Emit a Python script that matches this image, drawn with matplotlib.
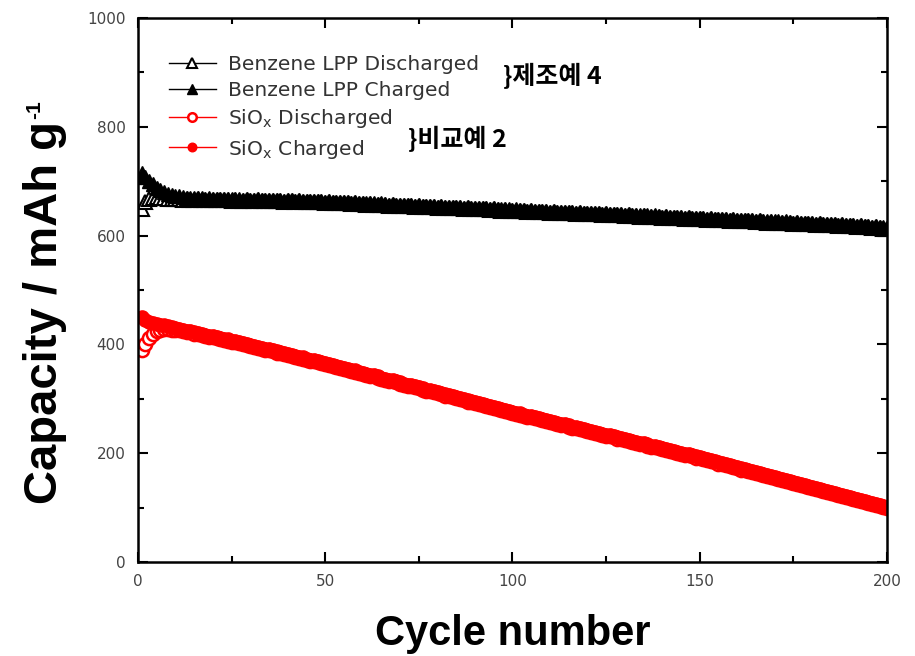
import matplotlib
matplotlib.use("Agg")
import matplotlib.pyplot as plt
from matplotlib.ticker import MultipleLocator

plt.rcParams['font.family'] = ['Liberation Sans', 'DejaVu Sans']
plt.rcParams['mathtext.fontset'] = 'custom'
plt.rcParams['mathtext.rm'] = 'DejaVu Sans'
plt.rcParams['mathtext.it'] = 'DejaVu Sans'

cycles = list(range(1, 201))

benzene_charged = [
    715, 708, 700, 694, 688, 684, 680, 677, 675, 673,
    672, 671, 670, 670, 669, 670, 669, 668, 669, 668,
    668, 667, 668, 667, 667, 668, 667, 666, 667, 666,
    666, 667, 666, 665, 666, 665, 666, 665, 664, 665,
    665, 664, 665, 664, 663, 664, 663, 664, 663, 662,
    663, 662, 662, 661, 662, 661, 660, 661, 660, 660,
    659, 660, 659, 658, 659, 658, 657, 658, 657, 656,
    657, 656, 656, 655, 656, 655, 654, 655, 654, 653,
    654, 653, 653, 652, 653, 652, 651, 652, 651, 650,
    651, 650, 650, 649, 650, 649, 648, 649, 648, 647,
    648, 647, 647, 646, 647, 646, 645, 646, 645, 644,
    645, 644, 644, 643, 644, 643, 642, 643, 642, 641,
    642, 641, 641, 640, 641, 640, 639, 640, 639, 638,
    639, 638, 638, 637, 638, 637, 636, 637, 636, 635,
    636, 635, 634, 635, 634, 633, 634, 633, 632, 632,
    632, 631, 632, 631, 630, 631, 630, 629, 630, 629,
    629, 628, 629, 628, 627, 628, 627, 626, 627, 626,
    626, 625, 626, 625, 624, 625, 624, 623, 624, 623,
    622, 623, 622, 621, 622, 621, 620, 621, 620, 619,
    619, 618, 619, 618, 617, 616, 617, 616, 615, 614,
]

benzene_discharged = [
    648, 662, 668, 670, 671, 670, 669, 668, 668, 667,
    667, 666, 667, 666, 666, 667, 666, 665, 666, 665,
    666, 665, 666, 665, 664, 665, 664, 664, 665, 664,
    664, 665, 664, 663, 664, 663, 664, 663, 662, 663,
    663, 662, 663, 662, 661, 662, 661, 662, 661, 660,
    661, 660, 660, 659, 660, 659, 658, 659, 658, 658,
    657, 658, 657, 656, 657, 656, 655, 656, 655, 654,
    655, 654, 654, 653, 654, 653, 652, 653, 652, 651,
    652, 651, 651, 650, 651, 650, 649, 650, 649, 648,
    649, 648, 648, 647, 648, 647, 646, 647, 646, 645,
    646, 645, 645, 644, 645, 644, 643, 644, 643, 642,
    643, 642, 642, 641, 642, 641, 640, 641, 640, 639,
    640, 639, 639, 638, 639, 638, 637, 638, 637, 636,
    637, 636, 636, 635, 636, 635, 634, 635, 634, 633,
    634, 633, 632, 633, 632, 631, 632, 631, 630, 630,
    630, 629, 630, 629, 628, 629, 628, 627, 628, 627,
    627, 626, 627, 626, 625, 626, 625, 624, 625, 624,
    624, 623, 624, 623, 622, 623, 622, 621, 622, 621,
    620, 621, 620, 619, 620, 619, 618, 619, 618, 617,
    617, 616, 617, 616, 615, 614, 615, 614, 613, 612,
]

siox_charged = [
    450, 445, 442, 440, 438, 436, 435, 433, 432, 430,
    428, 427, 425, 424, 422, 421, 419, 418, 416, 415,
    413, 412, 410, 409, 407, 406, 404, 402, 401, 399,
    397, 396, 394, 392, 391, 389, 387, 386, 384, 382,
    381, 379, 377, 376, 374, 372, 371, 369, 367, 366,
    364, 362, 360, 359, 357, 355, 353, 352, 350, 348,
    346, 344, 343, 341, 339, 337, 335, 334, 332, 330,
    328, 326, 325, 323, 321, 319, 317, 316, 314, 312,
    310, 308, 307, 305, 303, 301, 299, 297, 296, 294,
    292, 290, 288, 287, 285, 283, 281, 279, 278, 276,
    274, 273, 271, 269, 268, 266, 264, 263, 261, 259,
    258, 256, 254, 253, 251, 249, 248, 246, 244, 243,
    241, 239, 238, 236, 234, 233, 231, 229, 228, 226,
    224, 223, 221, 219, 218, 216, 214, 213, 211, 209,
    208, 206, 204, 203, 201, 199, 198, 196, 194, 193,
    191, 189, 187, 185, 183, 182, 180, 178, 176, 174,
    172, 171, 169, 167, 165, 163, 161, 160, 158, 156,
    154, 152, 150, 149, 147, 145, 143, 141, 139, 138,
    136, 134, 132, 130, 128, 127, 125, 123, 121, 119,
    117, 116, 114, 112, 110, 108, 106, 105, 103, 101,
]

siox_discharged = [
    390, 400, 412, 420, 425, 427, 428, 428, 427, 426,
    426, 425, 423, 422, 420, 419, 417, 416, 414, 413,
    411, 410, 408, 407, 405, 404, 402, 400, 399, 397,
    395, 394, 392, 390, 389, 387, 385, 384, 382, 380,
    379, 377, 375, 374, 372, 370, 369, 367, 365, 364,
    362, 360, 358, 357, 355, 353, 351, 350, 348, 346,
    344, 342, 341, 339, 337, 335, 333, 332, 330, 328,
    326, 324, 323, 321, 319, 317, 315, 314, 312, 310,
    308, 306, 305, 303, 301, 299, 297, 295, 294, 292,
    290, 288, 286, 285, 283, 281, 279, 277, 276, 274,
    272, 271, 269, 267, 266, 264, 262, 261, 259, 257,
    256, 254, 252, 251, 249, 247, 246, 244, 242, 241,
    239, 237, 236, 234, 232, 231, 229, 227, 226, 224,
    222, 221, 219, 217, 216, 214, 212, 211, 209, 207,
    206, 204, 202, 201, 199, 197, 196, 194, 192, 191,
    189, 187, 185, 183, 181, 180, 178, 176, 174, 172,
    170, 169, 167, 165, 163, 161, 159, 158, 156, 154,
    152, 150, 148, 147, 145, 143, 141, 139, 137, 136,
    134, 132, 130, 128, 126, 125, 123, 121, 119, 117,
    115, 114, 112, 110, 108, 106, 104, 103, 101, 99,
]

labels = ["Benzene LPP Discharged", "Benzene LPP Charged",
          "SiO$_{\\mathregular{x}}$ Discharged", "SiO$_{\\mathregular{x}}$ Charged"]
x_ticks = [0, 50, 100, 150, 200]
y_ticks = [0, 200, 400, 600, 800, 1000]

fig = plt.figure(figsize=(9.15, 6.56), dpi=100)
ax = fig.add_axes([0.1508, 0.1433, 0.8186, 0.8293])

ax.plot(cycles, benzene_discharged, color='black', lw=1, marker='^', ms=10.5,
        mfc='white', mec='black', mew=1.5, label=labels[0])
ax.plot(cycles, benzene_charged, color='black', lw=1, marker='^', ms=10.5,
        mfc='black', mec='black', label=labels[1])
ax.plot(cycles, siox_discharged, color='red', lw=1, marker='o', ms=9.5,
        mfc='white', mec='red', mew=1.8, label=labels[2])
ax.plot(cycles, siox_charged, color='red', lw=1, marker='o', ms=9.5,
        mfc='red', mec='red', label=labels[3])

ax.set_xlim(0, 200)
ax.set_ylim(0, 1000)
ax.set_xticks(x_ticks)
ax.set_yticks(y_ticks)
ax.xaxis.set_minor_locator(MultipleLocator(25))
ax.yaxis.set_minor_locator(MultipleLocator(100))
ax.tick_params(which='both', direction='in', top=True, right=True,
               labelsize=11, labelcolor='#444444', width=1.5, pad=9)
for lab in ax.get_xticklabels() + ax.get_yticklabels():
    lab.set_family('DejaVu Sans')
ax.tick_params(which='major', length=7)
ax.tick_params(which='minor', length=4)
for s in ax.spines.values():
    s.set_linewidth(1.8)

ax.set_xlabel("Cycle number", fontsize=30, fontweight='bold',
              family='Liberation Sans')
ax.xaxis.set_label_coords(0.5, -0.095)

# y label: main text plus a small superscript placed at its top end
ylab = fig.text(0.049, 0.524, "Capacity / mAh g", rotation=90, ha='center',
                va='center', fontsize=34, fontweight='bold',
                family='Liberation Sans')
fig.canvas.draw()
bb = ylab.get_window_extent(fig.canvas.get_renderer())
fig.text(bb.x0 / fig.dpi / fig.get_figwidth() + 0.002,
         bb.y1 / fig.dpi / fig.get_figheight() + 0.003,
         "-1", rotation=90, ha='left', va='bottom', fontsize=15,
         fontweight='bold', family='Liberation Sans')

leg = ax.legend(loc='upper left', bbox_to_anchor=(0.025, 0.955), frameon=False,
                prop={'family': 'DejaVu Sans', 'size': 14.6},
                handlelength=2.3, labelspacing=0.36, markerscale=0.65,
                handletextpad=0.6, borderaxespad=0.2)
for t in leg.get_texts():
    t.set_color('#333333')

kfont = ['Noto Sans CJK KR', 'DejaVu Sans']
ax.text(0.487, 0.893, "}제조예 4", transform=ax.transAxes, fontsize=18,
        fontweight='bold', family=kfont, va='center', ha='left')
ax.text(0.36, 0.778, "}비교예 2", transform=ax.transAxes, fontsize=18,
        fontweight='bold', family=kfont, va='center', ha='left')

fig.savefig("out.png", dpi=100)
